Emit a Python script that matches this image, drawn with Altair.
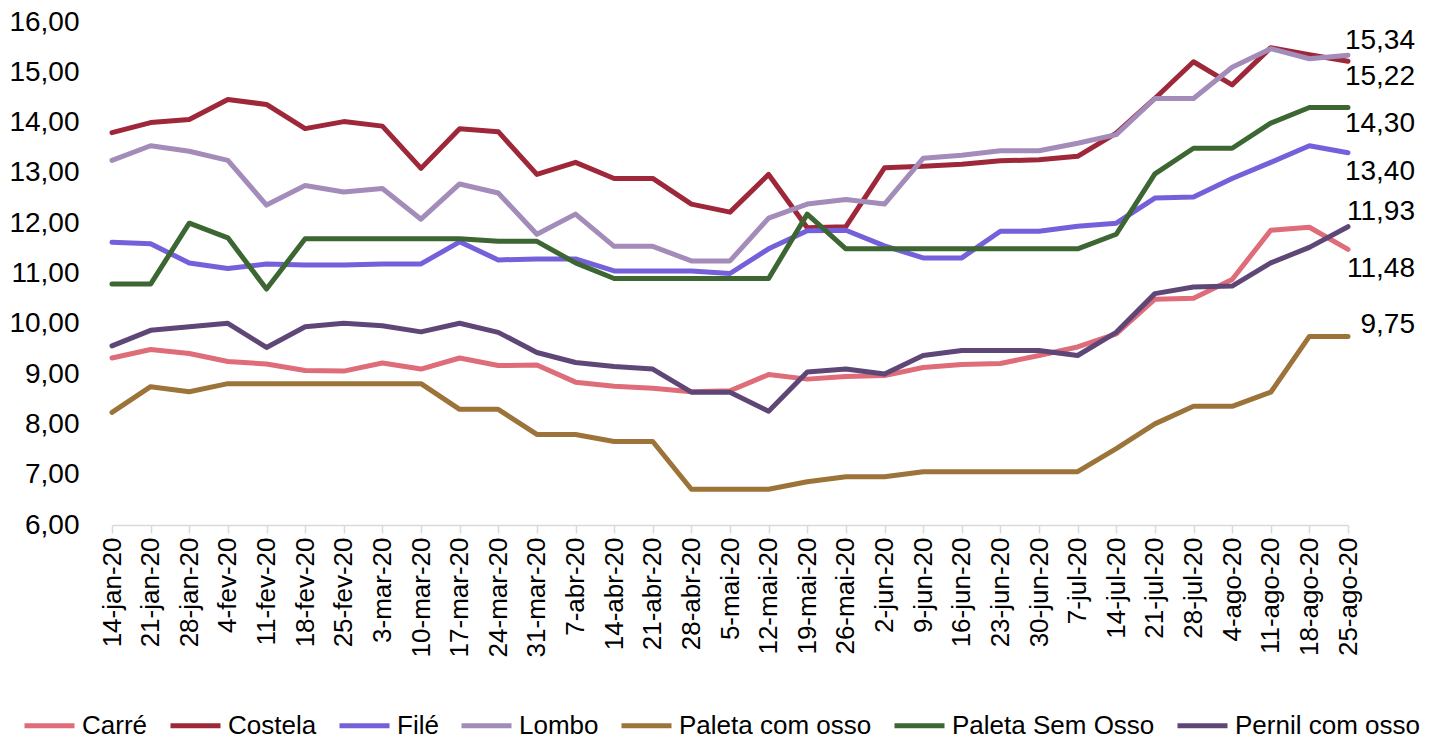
import altair as alt
import pandas as pd

dates = ["14-jan-20", "21-jan-20", "28-jan-20", "4-fev-20", "11-fev-20", "18-fev-20",
         "25-fev-20", "3-mar-20", "10-mar-20", "17-mar-20", "24-mar-20", "31-mar-20",
         "7-abr-20", "14-abr-20", "21-abr-20", "28-abr-20", "5-mai-20", "12-mai-20",
         "19-mai-20", "26-mai-20", "2-jun-20", "9-jun-20", "16-jun-20", "23-jun-20",
         "30-jun-20", "7-jul-20", "14-jul-20", "21-jul-20", "28-jul-20", "4-ago-20",
         "11-ago-20", "18-ago-20", "25-ago-20"]

carre = [9.32, 9.49, 9.41, 9.25, 9.20, 9.07, 9.06, 9.22, 9.10, 9.32, 9.17, 9.18, 8.84,
         8.76, 8.72, 8.65, 8.67, 8.99, 8.90, 8.95, 8.97, 9.13, 9.19, 9.21, 9.37, 9.54,
         9.80, 10.49, 10.51, 10.88, 11.86, 11.92, 11.48]
costela = [13.80, 14.00, 14.06, 14.46, 14.36, 13.88, 14.02, 13.93, 13.09, 13.88, 13.82,
           12.97, 13.21, 12.89, 12.89, 12.38, 12.22, 12.97, 11.91, 11.93, 13.10, 13.13,
           13.17, 13.24, 13.26, 13.33, 13.79, 14.48, 15.21, 14.75, 15.49, 15.35, 15.22]
file_ = [11.62, 11.59, 11.21, 11.10, 11.19, 11.17, 11.17, 11.19, 11.19, 11.63, 11.27,
         11.29, 11.29, 11.05, 11.05, 11.05, 11.00, 11.49, 11.85, 11.86, 11.55, 11.31,
         11.31, 11.84, 11.84, 11.94, 12.00, 12.50, 12.52, 12.89, 13.21, 13.54, 13.40]
lombo = [13.25, 13.54, 13.43, 13.25, 12.36, 12.75, 12.62, 12.69, 12.08, 12.78, 12.60,
         11.78, 12.18, 11.54, 11.54, 11.25, 11.25, 12.10, 12.38, 12.47, 12.38, 13.29,
         13.35, 13.44, 13.44, 13.59, 13.76, 14.48, 14.48, 15.10, 15.47, 15.27, 15.34]
paleta_com = [8.24, 8.75, 8.65, 8.81, 8.81, 8.81, 8.81, 8.81, 8.81, 8.30, 8.30, 7.80,
              7.80, 7.66, 7.66, 6.71, 6.71, 6.71, 6.86, 6.96, 6.96, 7.06, 7.06, 7.06,
              7.06, 7.06, 7.52, 8.01, 8.36, 8.36, 8.64, 9.75, 9.75]
paleta_sem = [10.79, 10.79, 12.00, 11.71, 10.69, 11.69, 11.69, 11.69, 11.69, 11.69,
              11.64, 11.64, 11.21, 10.90, 10.90, 10.90, 10.90, 10.90, 12.18, 11.49,
              11.49, 11.49, 11.49, 11.49, 11.49, 11.49, 11.78, 12.98, 13.49, 13.49,
              13.99, 14.30, 14.30]
pernil = [9.56, 9.87, 9.94, 10.01, 9.53, 9.94, 10.01, 9.96, 9.84, 10.01, 9.83, 9.43,
          9.23, 9.15, 9.10, 8.64, 8.64, 8.26, 9.04, 9.10, 9.00, 9.37, 9.47, 9.47, 9.47,
          9.37, 9.83, 10.60, 10.73, 10.75, 11.21, 11.52, 11.93]

series_names = ["Carré", "Costela", "Filé", "Lombo", "Paleta com osso",
                "Paleta Sem Osso", "Pernil com osso"]
series_values = [carre, costela, file_, lombo, paleta_com, paleta_sem, pernil]
colors = ["#DE6C79", "#9E2839", "#7460DB", "#A38BBA", "#9C7439", "#3C6632", "#5E4777"]
y_ticks = [6, 7, 8, 9, 10, 11, 12, 13, 14, 15, 16]

# vertical offsets of the end-of-line value labels (style only)
label_dy = {"Lombo": -14, "Costela": 16, "Paleta Sem Osso": 16, "Filé": 19,
            "Pernil com osso": -15, "Carré": 20, "Paleta com osso": -11}

rows = []
for name, vals in zip(series_names, series_values):
    for d, v in zip(dates, vals):
        rows.append({"date": d, "serie": name, "value": v})
df = pd.DataFrame(rows)

FONT = "Liberation Sans"

x_enc = alt.X("date:N", sort=dates, title=None,
              scale=alt.Scale(type="point", padding=0),
              axis=alt.Axis(labelAngle=270, labelFontSize=26, labelFont=FONT,
                            labelColor="#000000", domainColor="#d9d9d9",
                            domainWidth=1.5, tickColor="#d9d9d9", tickWidth=1.5,
                            tickSize=8, labelPadding=4, grid=False,
                            labelOverlap=False))
y_enc = alt.Y("value:Q", title=None,
              scale=alt.Scale(domain=[6, 16], nice=False, zero=False),
              axis=alt.Axis(values=y_ticks, domain=False, ticks=False, grid=False,
                            labelFontSize=28, labelFont=FONT, labelColor="#000000",
                            labelPadding=33,
                            labelExpr="replace(format(datum.value, '.2f'), '.', ',')"))

lines = alt.Chart(df).mark_line(strokeWidth=5, strokeCap="round",
                                strokeJoin="round").encode(
    x=x_enc,
    y=y_enc,
    color=alt.Color("serie:N", sort=series_names,
                    scale=alt.Scale(domain=series_names, range=colors),
                    legend=alt.Legend(title=None, orient="none", direction="horizontal",
                                      legendX=-90, legendY=676,
                                      symbolType="stroke", symbolSize=2500,
                                      symbolStrokeWidth=5, labelFontSize=26,
                                      labelFont=FONT, labelColor="#000000",
                                      labelOffset=5, columnPadding=12,
                                      padding=0, labelLimit=400)),
    order=alt.Order("serie:N"),
)

last = dates[-1]
label_layers = []
for name in series_names:
    lyr = alt.Chart(df).transform_filter(
        (alt.datum.serie == name) & (alt.datum.date == last)
    ).transform_calculate(
        txt="replace(format(datum.value, '.2f'), '.', ',')"
    ).mark_text(align="right", baseline="middle", dx=67, dy=label_dy[name],
                fontSize=28, font=FONT, color="#000000").encode(
        x=alt.X("date:N", sort=dates),
        y=alt.Y("value:Q"),
        text="txt:N",
    )
    label_layers.append(lyr)

chart = alt.layer(lines, *label_layers).properties(
    width=1236, height=503,
    autosize="none",
    background="#ffffff",
    padding={"left": 104, "top": 14, "right": 81, "bottom": 216},
).configure_view(stroke=None).configure_axisX(grid=False).configure_axisY(
    grid=False, domain=False, ticks=False)

chart.save("out.html", embed_options={"renderer": "svg", "actions": False})
